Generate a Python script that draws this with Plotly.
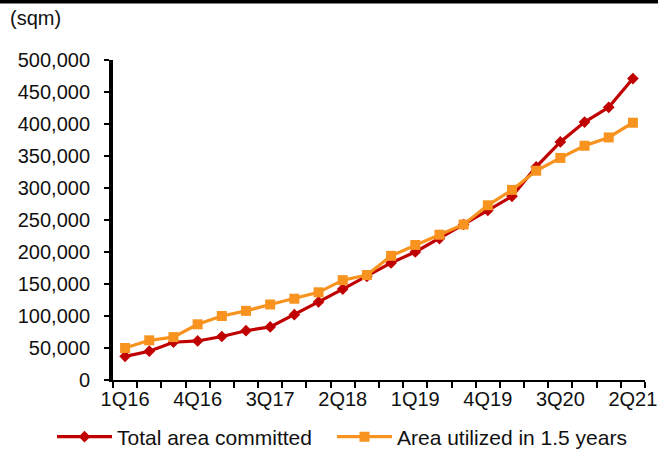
import plotly.graph_objects as go

# Quarterly series, 1Q16 .. 2Q21 (sqm)
quarters = ["1Q16", "2Q16", "3Q16", "4Q16", "1Q17", "2Q17", "3Q17", "4Q17",
            "1Q18", "2Q18", "3Q18", "4Q18", "1Q19", "2Q19", "3Q19", "4Q19",
            "1Q20", "2Q20", "3Q20", "4Q20", "1Q21", "2Q21"]
total_committed = [37000, 45000, 59000, 61000, 68000, 77000, 83000, 102000,
                   122000, 142000, 162000, 183000, 200000, 221000, 243000, 265000,
                   287000, 333000, 372000, 403000, 426000, 471000]
utilized_15y = [50000, 62000, 67000, 87000, 100000, 108000, 118000, 127000,
                137000, 156000, 164000, 194000, 211000, 227000, 243000, 273000,
                297000, 327000, 347000, 366000, 379000, 402000]
shown_labels = ["1Q16", "4Q16", "3Q17", "2Q18", "1Q19", "4Q19", "3Q20", "2Q21"]
y_ticks = [0, 50000, 100000, 150000, 200000, 250000, 300000, 350000, 400000, 450000, 500000]

RED = "#C00000"
ORANGE = "#F7931E"
FONT = "Liberation Sans, Arial, sans-serif"

W, H = 658, 450
L, R, T, B = 113, 13, 60, 70
pw, ph = W - L - R, H - T - B

fig = go.Figure()
fig.add_trace(go.Scatter(
    x=quarters, y=total_committed, name="Total area committed",
    mode="lines+markers", legend="legend",
    line=dict(color=RED, width=3.2),
    marker=dict(symbol="diamond", size=9, color=RED),
))
fig.add_trace(go.Scatter(
    x=quarters, y=utilized_15y, name="Area utilized in 1.5 years",
    mode="lines+markers", legend="legend2",
    line=dict(color=ORANGE, width=3.2),
    marker=dict(symbol="square", size=10, color=ORANGE),
))

legend_y = -(437 - (T + ph)) / ph
legend_common = dict(
    orientation="h", xref="paper", xanchor="left",
    yref="paper", y=legend_y, yanchor="middle",
    font=dict(size=21), itemwidth=55, bgcolor="rgba(0,0,0,0)",
)

fig.update_layout(
    width=W, height=H,
    margin=dict(l=L, r=R, t=T, b=B, pad=0, autoexpand=False),
    paper_bgcolor="white", plot_bgcolor="white",
    font=dict(family=FONT, size=20, color="#111111"),
    showlegend=True,
    legend=dict(x=(52 - L) / pw, **legend_common),
    legend2=dict(x=(332 - L) / pw, **legend_common),
    xaxis=dict(
        type="category", range=[-0.5, len(quarters) - 0.5],
        tickmode="array", tickvals=quarters,
        ticktext=[q if q in shown_labels else "" for q in quarters],
        tickson="boundaries", ticks="outside", ticklen=6, tickwidth=2,
        tickcolor="black", showline=True, linecolor="black", linewidth=2,
        showgrid=False, zeroline=False, tickangle=0,
        tickfont=dict(size=20), automargin=False,
    ),
    yaxis=dict(
        range=[0, 500000], tickmode="array", tickvals=y_ticks,
        tickformat=",d", ticks="outside", ticklen=5, tickwidth=2,
        tickcolor="black", showline=True, linecolor="black", linewidth=4,
        showgrid=False, zeroline=False, ticklabelstandoff=10,
        tickfont=dict(size=20), automargin=False,
    ),
)

# unit caption above the value axis
fig.add_annotation(
    text="(sqm)", xref="paper", yref="paper",
    x=(8 - L) / pw, y=(T + ph - 18) / ph, xanchor="left", yanchor="middle",
    showarrow=False, font=dict(size=20, family=FONT, color="#111111"),
)
# heavy rule across the top edge
fig.add_shape(
    type="line", xref="paper", yref="paper",
    x0=-L / pw, x1=(W - L) / pw, y0=(T + ph - 1.5) / ph, y1=(T + ph - 1.5) / ph,
    line=dict(color="black", width=4),
)

fig.write_html("out.html")
